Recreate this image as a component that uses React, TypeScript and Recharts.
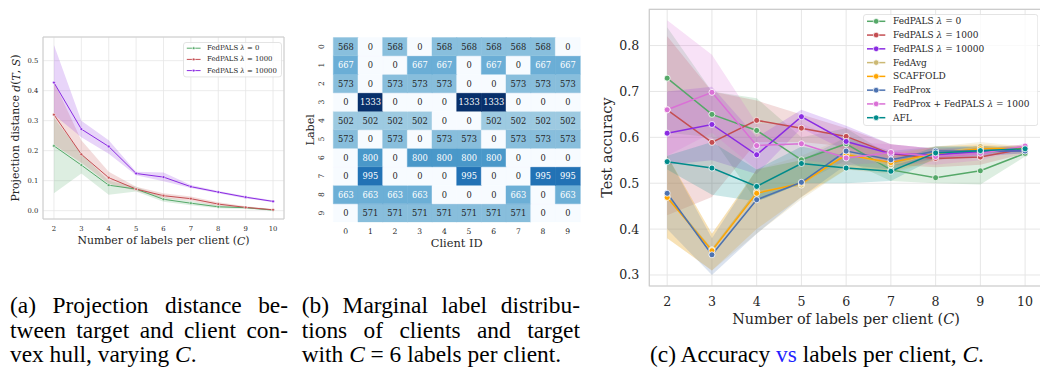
import React from 'react';
import {
  ComposedChart, Line, Area, XAxis, YAxis, CartesianGrid, ReferenceArea, Legend,
  BarChart, Bar, Cell, LabelList,
} from 'recharts';

// ---------------- shared ----------------
const C_VALUES = [2, 3, 4, 5, 6, 7, 8, 9, 10];
const FONT = '"DejaVu Serif", serif';
const INK = '#262626';
const GRID = '#e6e6e6';
const FRAME = '#cccccc';

// ---------------- panel (a): projection distance ----------------
const projLam0 = [0.216, 0.152, 0.085, 0.072, 0.038, 0.025, 0.013, 0.010, 0.002];
const projLam0Lo = [0.058, 0.124, 0.053, 0.064, 0.030, 0.018, 0.008, 0.006, 0.000];
const projLam0Hi = [0.31, 0.19, 0.10, 0.080, 0.046, 0.032, 0.018, 0.013, 0.004];
const projLam1000 = [0.320, 0.188, 0.110, 0.072, 0.050, 0.040, 0.022, 0.011, 0.003];
const projLam1000Lo = [0.22, 0.16, 0.09, 0.066, 0.042, 0.033, 0.016, 0.008, 0.001];
const projLam1000Hi = [0.43, 0.235, 0.13, 0.080, 0.058, 0.047, 0.028, 0.015, 0.006];
const projLam10000 = [0.427, 0.272, 0.214, 0.124, 0.112, 0.080, 0.062, 0.045, 0.031];
const projLam10000Lo = [0.32, 0.245, 0.19, 0.118, 0.098, 0.076, 0.058, 0.041, 0.028];
const projLam10000Hi = [0.552, 0.30, 0.235, 0.130, 0.127, 0.086, 0.066, 0.049, 0.034];
const projNames = ['FedPALS λ = 0', 'FedPALS λ = 1000', 'FedPALS λ = 10000'];
const projColors = ['#55a868', '#c44e52', '#8a2be2'];
const projTicks = [0, 0.1, 0.2, 0.3, 0.4, 0.5];

const projMeans = [projLam0, projLam1000, projLam10000];
const projLos = [projLam0Lo, projLam1000Lo, projLam10000Lo];
const projHis = [projLam0Hi, projLam1000Hi, projLam10000Hi];
const aData = C_VALUES.map((c, i) => {
  const row: any = { C: c };
  projMeans.forEach((m, k) => {
    row[`m${k}`] = m[i];
    row[`b${k}`] = [projLos[k][i], projHis[k][i]];
  });
  return row;
});

// ---------------- panel (b): heatmap ----------------
const clientIds = ['0', '1', '2', '3', '4', '5', '6', '7', '8', '9'];
const label0 = [568, 0, 568, 0, 568, 568, 568, 568, 568, 0];
const label1 = [667, 0, 0, 667, 667, 0, 667, 0, 667, 667];
const label2 = [573, 0, 573, 573, 573, 0, 0, 573, 573, 573];
const label3 = [0, 1333, 0, 0, 0, 1333, 1333, 0, 0, 0];
const label4 = [502, 502, 502, 502, 0, 0, 502, 502, 502, 502];
const label5 = [573, 0, 573, 0, 573, 573, 0, 573, 573, 573];
const label6 = [0, 800, 0, 800, 800, 800, 800, 0, 0, 0];
const label7 = [0, 995, 0, 0, 0, 995, 0, 0, 995, 995];
const label8 = [663, 663, 663, 663, 0, 0, 0, 663, 0, 663];
const label9 = [0, 571, 571, 571, 571, 571, 571, 571, 0, 0];
const HM_ROWS = [label0, label1, label2, label3, label4, label5, label6, label7, label8, label9];
const HM_MAX = 1333;
const hmRowTicks = [0.5, 1.5, 2.5, 3.5, 4.5, 5.5, 6.5, 7.5, 8.5, 9.5];

const hmData = clientIds.map((id, j) => {
  const row: any = { client: id };
  HM_ROWS.forEach((arr, r) => {
    row[`s${r}`] = 1;
    row[`v${r}`] = arr[j];
  });
  return row;
});

const BLUES = ['#f7fbff', '#deebf7', '#c6dbef', '#9ecae1', '#6baed6', '#4292c6', '#2171b5', '#08519c', '#08306b'];
function hexToRgb(h: string) {
  return [parseInt(h.slice(1, 3), 16), parseInt(h.slice(3, 5), 16), parseInt(h.slice(5, 7), 16)];
}
function bluesRgb(t: number) {
  const tt = Math.max(0, Math.min(1, t));
  const p = tt * (BLUES.length - 1);
  const i = Math.min(BLUES.length - 2, Math.floor(p));
  const f = p - i;
  const a = hexToRgb(BLUES[i]);
  const b = hexToRgb(BLUES[i + 1]);
  return a.map((v, k) => Math.round(v + (b[k] - v) * f));
}
function bluesColor(t: number) {
  const [r, g, b] = bluesRgb(t);
  return `rgb(${r},${g},${b})`;
}
function textColorFor(t: number) {
  const lin = (c: number) => {
    const s = c / 255;
    return s <= 0.03928 ? s / 12.92 : Math.pow((s + 0.055) / 1.055, 2.4);
  };
  const [r, g, b] = bluesRgb(t);
  const L = 0.2126 * lin(r) + 0.7152 * lin(g) + 0.0722 * lin(b);
  return L < 0.408 ? '#ffffff' : INK;
}

// ---------------- panel (c): accuracy ----------------
const accPals0 = [0.729, 0.650, 0.615, 0.551, 0.586, 0.529, 0.512, 0.527, 0.565];
const accPals0Lo = [0.61, 0.60, 0.46, 0.50, 0.55, 0.505, 0.50, 0.497, 0.558];
const accPals0Hi = [0.84, 0.70, 0.685, 0.60, 0.62, 0.56, 0.56, 0.565, 0.572];
const accPals1000 = [0.660, 0.589, 0.637, 0.620, 0.602, 0.564, 0.554, 0.557, 0.575];
const accPals1000Lo = [0.43, 0.47, 0.59, 0.59, 0.58, 0.54, 0.535, 0.54, 0.565];
const accPals1000Hi = [0.82, 0.70, 0.68, 0.65, 0.62, 0.585, 0.575, 0.575, 0.585];
const accPals10000 = [0.609, 0.628, 0.562, 0.645, 0.591, 0.564, 0.562, 0.569, 0.571];
const accPals10000Lo = [0.54, 0.55, 0.52, 0.62, 0.57, 0.55, 0.55, 0.56, 0.565];
const accPals10000Hi = [0.70, 0.71, 0.60, 0.66, 0.625, 0.585, 0.575, 0.58, 0.578];
const accFedAvg = [0.471, 0.355, 0.482, 0.496, 0.565, 0.540, 0.565, 0.580, 0.573];
const accFedAvgLo = [0.38, 0.31, 0.39, 0.465, 0.53, 0.52, 0.55, 0.565, 0.565];
const accFedAvgHi = [0.56, 0.39, 0.53, 0.56, 0.60, 0.56, 0.58, 0.59, 0.58];
const accScaffold = [0.469, 0.353, 0.478, 0.500, 0.562, 0.545, 0.565, 0.575, 0.576];
const accScaffoldLo = [0.38, 0.31, 0.40, 0.47, 0.53, 0.525, 0.55, 0.565, 0.57];
const accScaffoldHi = [0.56, 0.39, 0.53, 0.55, 0.59, 0.565, 0.58, 0.585, 0.58];
const accFedProx = [0.478, 0.344, 0.464, 0.502, 0.570, 0.551, 0.570, 0.570, 0.570];
const accFedProxLo = [0.40, 0.30, 0.39, 0.47, 0.54, 0.53, 0.555, 0.56, 0.565];
const accFedProxHi = [0.56, 0.38, 0.53, 0.55, 0.60, 0.57, 0.58, 0.58, 0.575];
const accProxPals = [0.660, 0.698, 0.582, 0.586, 0.555, 0.567, 0.558, 0.565, 0.581];
const accProxPalsLo = [0.56, 0.61, 0.53, 0.55, 0.54, 0.545, 0.54, 0.55, 0.575];
const accProxPalsHi = [0.855, 0.78, 0.63, 0.63, 0.59, 0.585, 0.575, 0.575, 0.585];
const accAfl = [0.547, 0.533, 0.493, 0.543, 0.533, 0.526, 0.566, 0.571, 0.575];
const accAflLo = [0.53, 0.475, 0.46, 0.50, 0.50, 0.505, 0.555, 0.565, 0.57];
const accAflHi = [0.56, 0.59, 0.53, 0.58, 0.56, 0.545, 0.58, 0.58, 0.58];

const accNames = [
  'FedPALS λ = 0', 'FedPALS λ = 1000', 'FedPALS λ = 10000', 'FedAvg', 'SCAFFOLD',
  'FedProx', 'FedProx + FedPALS λ = 1000', 'AFL',
];
const accColors = ['#55a868', '#c44e52', '#8a2be2', '#ccb974', '#ffa500', '#4c72b0', '#da70d6', '#008b8b'];
const accTicks = [0.3, 0.4, 0.5, 0.6, 0.7, 0.8];
const accMeans = [accPals0, accPals1000, accPals10000, accFedAvg, accScaffold, accFedProx, accProxPals, accAfl];
const accLos = [accPals0Lo, accPals1000Lo, accPals10000Lo, accFedAvgLo, accScaffoldLo, accFedProxLo, accProxPalsLo, accAflLo];
const accHis = [accPals0Hi, accPals1000Hi, accPals10000Hi, accFedAvgHi, accScaffoldHi, accFedProxHi, accProxPalsHi, accAflHi];
const cData = C_VALUES.map((c, i) => {
  const row: any = { C: c };
  accMeans.forEach((m, k) => {
    row[`m${k}`] = m[i];
    row[`b${k}`] = [accLos[k][i], accHis[k][i]];
  });
  return row;
});

// ---------------- helpers ----------------
function lambdaText(name: string) {
  const parts = name.split('λ');
  if (parts.length === 1) return name;
  return (
    <>
      {parts[0]}
      <tspan fontStyle="italic">λ</tspan>
      {parts[1]}
    </>
  );
}

const xTick = (dy: number, size: number) => (props: any) => {
  const { x, y, payload } = props;
  return (
    <text x={x} y={y + dy} textAnchor="middle" dominantBaseline="central" fontFamily={FONT} fontSize={size} fill={INK}>
      {payload.value}
    </text>
  );
};
const yTick = (gap: number, size: number) => (props: any) => {
  const { x, y, payload } = props;
  return (
    <text x={x - gap} y={y} textAnchor="end" dominantBaseline="central" fontFamily={FONT} fontSize={size} fill={INK}>
      {Number(payload.value).toFixed(1)}
    </text>
  );
};

function makeLegend(names: string[], colors: string[], w: number, h: number, rowY0: number, rowStep: number,
  lineX0: number, lineX1: number, textX: number, fontSize: number, r: number, lw: number) {
  return () => (
    <svg width={w} height={h} style={{ display: 'block' }}>
      <rect x={0.5} y={0.5} width={w - 1} height={h - 1} rx={2.5} fill="#ffffff" fillOpacity={0.8} stroke="#dddddd" strokeWidth={0.8} />
      {names.map((n, i) => {
        const y = rowY0 + i * rowStep;
        const cx = (lineX0 + lineX1) / 2;
        return (
          <g key={n}>
            <line x1={lineX0} x2={lineX1} y1={y} y2={y} stroke={colors[i]} strokeWidth={lw} />
            <circle cx={cx} cy={y} r={r} fill={colors[i]} stroke="#ffffff" strokeWidth={0.7} />
            <text x={textX} y={y} dominantBaseline="central" fontFamily={FONT} fontSize={fontSize} fill={INK}>
              {lambdaText(n)}
            </text>
          </g>
        );
      })}
    </svg>
  );
}

const LegendA = makeLegend(projNames, projColors, 99, 35.4, 6.2, 11.2, 3.8, 17.6, 24, 6.9, 1.4, 1);
const LegendC = makeLegend(accNames, accColors, 175.3, 112, 7.3, 13.77, 4, 22.3, 30, 9.0, 2.8, 1.5);

// ---------------- panels ----------------
function PanelA() {
  const yDomain: [number, number] = [-0.0277, 0.579];
  return (
    <ComposedChart width={300} height={260} data={aData} margin={{ top: 37, right: 16, bottom: 0, left: 0 }}>
      <CartesianGrid stroke={GRID} strokeWidth={0.8} />
      <XAxis
        dataKey="C" type="number" domain={[1.6, 10.4]} ticks={C_VALUES} allowDataOverflow interval={0}
        axisLine={false} tickLine={false} tickSize={0} tickMargin={0} height={41}
        tick={xTick(9.7, 6.8)}
        label={{
          content: (p: any) => {
            const vb = p.viewBox;
            return (
              <text x={vb.x + vb.width / 2} y={vb.y + 21.7} textAnchor="middle" dominantBaseline="central" fontFamily={FONT} fontSize={10.9} fill={INK}>
                Number of labels per client (<tspan fontStyle="italic">C</tspan>)
              </text>
            );
          },
        }}
      />
      <YAxis
        type="number" domain={yDomain} ticks={projTicks} allowDataOverflow interval={0}
        axisLine={false} tickLine={false} tickSize={0} tickMargin={0} width={43}
        tick={yTick(4.7, 6.8)}
        label={{
          content: (p: any) => {
            const vb = p.viewBox;
            const cy = vb.y + vb.height / 2;
            return (
              <text transform={`translate(${15.7},${cy}) rotate(-90)`} textAnchor="middle" dominantBaseline="central" fontFamily={FONT} fontSize={10.9} fill={INK}>
                Projection distance <tspan fontStyle="italic">d</tspan>(<tspan fontStyle="italic">T</tspan>, <tspan fontStyle="italic">S</tspan>)
              </text>
            );
          },
        }}
      />
      <ReferenceArea x1={1.6} x2={10.4} y1={yDomain[0]} y2={yDomain[1]} fill="none" stroke={FRAME} strokeWidth={1} ifOverflow="visible" />
      {projNames.map((n, k) => (
        <React.Fragment key={n}>
          <Line dataKey={`m${k}`} type="linear" stroke={projColors[k]} strokeWidth={1}
            dot={{ r: 1.4, fill: projColors[k], stroke: '#ffffff', strokeWidth: 0.5 }} activeDot={false} isAnimationActive={false} />
          <Area dataKey={`b${k}`} type="linear" stroke="none" fill={projColors[k]} fillOpacity={0.2}
            dot={false} activeDot={false} isAnimationActive={false} />
        </React.Fragment>
      ))}
      <Legend content={LegendA} layout="horizontal" verticalAlign="middle" align="center"
        wrapperStyle={{ left: 182.7, top: 42.3, width: 99, height: 35.4 }} />
    </ComposedChart>
  );
}

function hmLabel(p: any) {
  const { x, y, width, height, value } = p;
  const t = Number(value) / HM_MAX;
  return (
    <text x={Number(x) + Number(width) / 2} y={Number(y) + Number(height) / 2} textAnchor="middle" dominantBaseline="central"
      fontFamily={FONT} fontSize={8.3} fill={textColorFor(t)}>
      {value}
    </text>
  );
}

function PanelB() {
  const order = [9, 8, 7, 6, 5, 4, 3, 2, 1, 0];
  return (
    <BarChart width={300} height={260} data={hmData} margin={{ top: 37.3, right: 15, bottom: 0, left: 0 }}
      barCategoryGap={0} barGap={0}>
      <XAxis dataKey="client" type="category" axisLine={false} tickLine={false} tickSize={0} tickMargin={0} height={37.7}
        interval={0} tick={xTick(9.4, 7.6)}
        label={{
          content: (p: any) => {
            const vb = p.viewBox;
            return (
              <text x={vb.x + vb.width / 2} y={vb.y + 21} textAnchor="middle" dominantBaseline="central" fontFamily={FONT} fontSize={11.4} fill={INK}>
                Client ID
              </text>
            );
          },
        }}
      />
      <YAxis type="number" domain={[0, 10]} ticks={hmRowTicks} allowDataOverflow interval={0}
        axisLine={false} tickLine={false} tickSize={0} tickMargin={0} width={38.3}
        tick={(props: any) => {
          const { x, y, payload } = props;
          const lab = String(Math.round(9.5 - payload.value));
          return (
            <text transform={`translate(${x - 11.6},${y}) rotate(-90)`} textAnchor="middle" dominantBaseline="central"
              fontFamily={FONT} fontSize={7.6} fill={INK}>
              {lab}
            </text>
          );
        }}
        label={{
          content: (p: any) => {
            const vb = p.viewBox;
            const cy = vb.y + vb.height / 2;
            return (
              <text transform={`translate(${15},${cy}) rotate(-90)`} textAnchor="middle" dominantBaseline="central" fontFamily={FONT} fontSize={11.2} fill={INK}>
                Label
              </text>
            );
          },
        }}
      />
      {order.map((r) => (
        <Bar key={r} dataKey={`s${r}`} stackId="hm" isAnimationActive={false}>
          {HM_ROWS[r].map((v, j) => (
            <Cell key={j} fill={bluesColor(v / HM_MAX)} stroke={bluesColor(v / HM_MAX)} strokeWidth={0.4} />
          ))}
          <LabelList dataKey={`v${r}`} content={hmLabel} />
        </Bar>
      ))}
    </BarChart>
  );
}

function PanelC() {
  const yDomain: [number, number] = [0.276, 0.879];
  return (
    <ComposedChart width={460} height={340} data={cData} margin={{ top: 9.3, right: 7, bottom: 0, left: 0 }}>
      <CartesianGrid stroke={GRID} strokeWidth={1} />
      <XAxis
        dataKey="C" type="number" domain={[1.6, 10.4]} ticks={C_VALUES} allowDataOverflow interval={0}
        axisLine={false} tickLine={false} tickSize={0} tickMargin={0} height={54}
        tick={xTick(15.7, 12.6)}
        label={{
          content: (p: any) => {
            const vb = p.viewBox;
            return (
              <text x={846 - 590} y={vb.y + 33} textAnchor="middle" dominantBaseline="central" fontFamily={FONT} fontSize={14.4} fill={INK}>
                Number of labels per client (<tspan fontStyle="italic">C</tspan>)
              </text>
            );
          },
        }}
      />
      <YAxis
        type="number" domain={yDomain} ticks={accTicks} allowDataOverflow interval={0}
        axisLine={false} tickLine={false} tickSize={0} tickMargin={0} width={59.3}
        tick={yTick(10, 12.6)}
        label={{
          content: (p: any) => {
            const vb = p.viewBox;
            const cy = vb.y + vb.height / 2;
            return (
              <text transform={`translate(${17},${cy}) rotate(-90)`} textAnchor="middle" dominantBaseline="central" fontFamily={FONT} fontSize={14.4} fill={INK}>
                Test accuracy
              </text>
            );
          },
        }}
      />
      <ReferenceArea x1={1.6} x2={10.4} y1={yDomain[0]} y2={yDomain[1]} fill="none" stroke={FRAME} strokeWidth={1.2} ifOverflow="visible" />
      {accNames.map((n, k) => (
        <React.Fragment key={n}>
          <Line dataKey={`m${k}`} type="linear" stroke={accColors[k]} strokeWidth={1.5}
            dot={{ r: 3, fill: accColors[k], stroke: '#ffffff', strokeWidth: 0.8 }} activeDot={false} isAnimationActive={false} />
          <Area dataKey={`b${k}`} type="linear" stroke="none" fill={accColors[k]} fillOpacity={0.2}
            dot={false} activeDot={false} isAnimationActive={false} />
        </React.Fragment>
      ))}
      <Legend content={LegendC} layout="horizontal" verticalAlign="middle" align="center"
        wrapperStyle={{ left: 862.7 - 590, top: 14, width: 175.3, height: 112 }} />
    </ComposedChart>
  );
}

// ---------------- captions ----------------
const CAP_FONT = '"Liberation Serif", "Times New Roman", serif';
const capBase: React.CSSProperties = {
  position: 'absolute', fontFamily: CAP_FONT, fontSize: 23.4, lineHeight: '24.5px', color: '#000',
};
const justified: React.CSSProperties = { textAlign: 'justify', textAlignLast: 'justify' as any };

export default function App() {
  return (
    <div style={{ position: 'absolute', left: 0, top: 0, width: 1040, height: 370, overflow: 'hidden', background: '#ffffff' }}>
      <div style={{ position: 'absolute', left: 0, top: 0 }}><PanelA /></div>
      <div style={{ position: 'absolute', left: 295, top: 0 }}><PanelB /></div>
      <div style={{ position: 'absolute', left: 590, top: 0 }}><PanelC /></div>

      <div style={{ ...capBase, ...justified, left: 10, top: 293.2, width: 278 }}>(a) Projection distance be-</div>
      <div style={{ ...capBase, ...justified, left: 10, top: 317.7, width: 278 }}>tween target and client con-</div>
      <div style={{ ...capBase, left: 10, top: 342.2, width: 278, whiteSpace: 'nowrap' }}>vex hull, varying <i>C</i>.</div>

      <div style={{ ...capBase, ...justified, left: 301.7, top: 293.2, width: 278.3 }}>(b) Marginal label distribu-</div>
      <div style={{ ...capBase, ...justified, left: 301.7, top: 317.7, width: 278.3 }}>tions of clients and target</div>
      <div style={{ ...capBase, left: 301.7, top: 342.2, whiteSpace: 'nowrap' }}>with <i>C</i> = 6 labels per client.</div>

      <div style={{ ...capBase, left: 650, top: 342.2, whiteSpace: 'nowrap' }}>
        (c) Accuracy <span style={{ color: '#1f1fff' }}>vs</span> labels per client, <i>C</i>.
      </div>
    </div>
  );
}
